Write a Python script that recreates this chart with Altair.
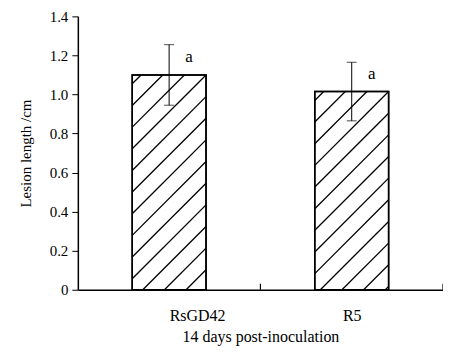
import altair as alt
import numpy as np
import pandas as pd

groups = ["RsGD42", "R5"]
means = [1.10, 1.015]
errs = [0.155, 0.15]
letters = ["a", "a"]

W, H = 366, 274
YMAX = 1.4
sx = W / len(groups)
sy = H / YMAX
half = 37 / sx  # half bar width in x units

pos = [i + 0.5 for i in range(len(groups))]
bars = pd.DataFrame({
    "g": groups, "x": [p - half for p in pos], "x2": [p + half for p in pos],
    "xc": pos, "m": means,
    "lo": [m - e for m, e in zip(means, errs)],
    "hi": [m + e for m, e in zip(means, errs)],
    "lab": letters,
})

# hatch segments (45 degrees in pixel space), anchored at the top-right corner
step = 21.7
segs = []
for i, m in enumerate(means):
    bw = 2 * half * sx
    bh = m * sy
    k0 = int(np.floor(-(bw) / step)) - 1
    k1 = int(np.ceil((bh) / step)) + 1
    for k in range(k0, k1 + 1):
        c = bw - bh + k * step
        xa = max(0.0, c)
        xb = min(bw, bh + c)
        if xb - xa > 0.5:
            segs.append({
                "x": bars.x[i] + xa / sx, "y": (xa - c) / sy,
                "x2": bars.x[i] + xb / sx, "y2": (xb - c) / sy,
            })
hatch = pd.DataFrame(segs)

bounds = pd.DataFrame({"b": list(range(1, len(groups) + 1)), "y0": 0.0,
                       "y1": 6 / sy})
yticks = [0, 0.2, 0.4, 0.6, 0.8, 1.0, 1.2, 1.4]

FONT = "Liberation Serif"
label_expr = " : ".join(
    [f"datum.value == {i} ? '{g}'" for i, g in enumerate(groups)] + ["''"]
)

xscale = alt.Scale(domain=[0, len(groups)], nice=False, zero=False)
yscale = alt.Scale(domain=[0, YMAX], nice=False)

xaxis = alt.Axis(
    values=list(range(len(groups) + 1)), labelExpr=label_expr, ticks=False,
    labelOffset=sx / 2, labelPadding=18, labelFont=FONT, labelFontSize=16,
    labelColor="black", domainColor="black", domainWidth=1.5, grid=False,
    labelOverlap=False,
    title="14 days post-inoculation", titleFont=FONT, titleFontSize=16,
    titleFontWeight="normal", titleColor="black", titlePadding=5,
)
yaxis = alt.Axis(
    values=yticks, tickCount=len(yticks),
    labelExpr="datum.value == 0 ? '0' : format(datum.value, '.1f')",
    tickSize=6, tickColor="black", tickWidth=1, labelPadding=4,
    labelFont=FONT, labelFontSize=15, labelColor="black", labelOverlap=False,
    labelBound=False, labelFlush=False,
    domainColor="black", domainWidth=1.5, grid=False,
    title="Lesion length /cm", titleFont=FONT, titleFontSize=15,
    titleFontWeight="normal", titleColor="black", titlePadding=16,
)

AX = lambda f: alt.X(f, scale=xscale, axis=xaxis)
AY = lambda f: alt.Y(f, scale=yscale, axis=yaxis)

base = alt.Chart(bars)

bar = base.mark_bar(fill="white", stroke="black", strokeWidth=1.5).encode(
    x=AX("x:Q"), x2="x2:Q", y=AY("m:Q"), y2=alt.datum(0),
)

hatch_layer = alt.Chart(hatch).mark_rule(color="black", strokeWidth=1.3).encode(
    x=AX("x:Q"), x2="x2:Q", y=AY("y:Q"), y2="y2:Q"
)

outline = base.mark_bar(fill=None, stroke="black", strokeWidth=1.5).encode(
    x=AX("x:Q"), x2="x2:Q", y=AY("m:Q"), y2=alt.datum(0)
)

err = base.mark_rule(color="black", strokeWidth=1).encode(
    x=AX("xc:Q"), y=AY("lo:Q"), y2="hi:Q"
)
cap_hi = base.mark_tick(orient="horizontal", size=10, thickness=1, color="black").encode(
    x=AX("xc:Q"), y=AY("hi:Q")
)
cap_lo = base.mark_tick(orient="horizontal", size=10, thickness=1, color="black").encode(
    x=AX("xc:Q"), y=AY("lo:Q")
)
txt = base.mark_text(font=FONT, fontSize=17, color="black", dx=20, dy=12).encode(
    x=AX("xc:Q"), y=AY("hi:Q"), text="lab:N"
)
ticks = alt.Chart(bounds).mark_rule(color="black", strokeWidth=1.2).encode(
    x=AX("b:Q"), y=AY("y0:Q"), y2="y1:Q"
)

chart = alt.layer(bar, hatch_layer, outline, err, cap_hi, cap_lo, txt, ticks).properties(
    width=W, height=H,
    background="white",
    autosize=alt.AutoSizeParams(type="none"),
    padding={"left": 70, "top": 8, "right": 0, "bottom": 56},
).configure_view(stroke=None).configure_axis(labelOverlap=False)

chart.save("out.html", embed_options={"renderer": "svg", "actions": False})
